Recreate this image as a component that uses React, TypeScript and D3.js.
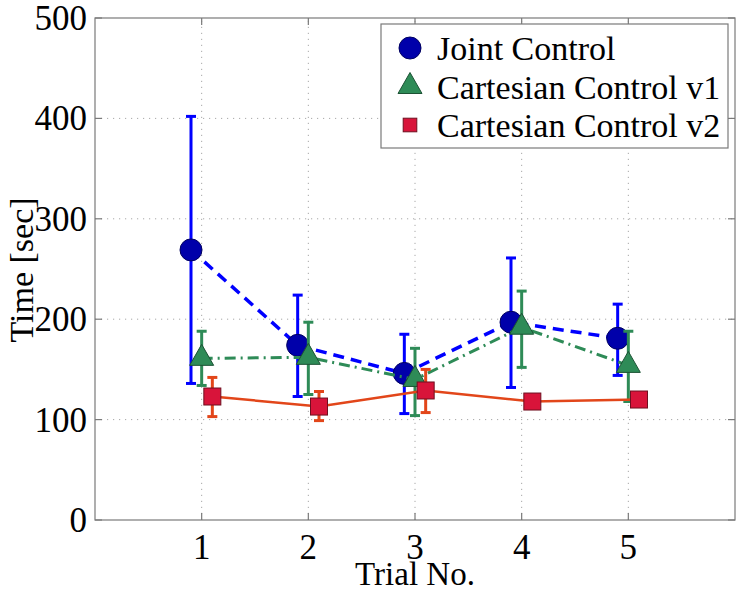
import React from "react";
import * as d3 from "d3";

const trials = [1, 2, 3, 4, 5];
const xTicks = [1, 2, 3, 4, 5];
const yTicks = [0, 100, 200, 300, 400, 500];

const jointMean = [269, 174, 146, 197, 181];
const jointUpper = [402, 224, 185, 261, 215];
const jointLower = [136, 123, 106, 132, 144];

const cart1Mean = [161, 162, 140, 192, 154];
const cart1Upper = [188, 197, 171, 228, 188];
const cart1Lower = [134, 125, 104, 152, 118];

const cart2Mean = [123, 113, 129, 118, 120];
const cart2Upper = [142, 128, 150, 123, 125];
const cart2Lower = [103, 99, 107, 113, 115];

const seriesNames = ["Joint Control", "Cartesian Control v1", "Cartesian Control v2"];

const W = 745;
const H = 591;
const FONT = "'Liberation Serif', 'Times New Roman', serif";

export default function App() {
  const x = d3.scaleLinear().domain([0, 6]).range([95, 735]);
  const y = d3.scaleLinear().domain([0, 500]).range([520, 18]);

  const series = [
    {
      name: seriesNames[0], mean: jointMean, up: jointUpper, lo: jointLower, off: -0.1,
      line: "#0000ff", dash: "11,7", lw: 3.5, fill: "#0000aa", edge: "#000060", marker: "circle",
    },
    {
      name: seriesNames[1], mean: cart1Mean, up: cart1Upper, lo: cart1Lower, off: 0,
      line: "#2e8b57", dash: "11,5,2,5", lw: 3, fill: "#2e8b57", edge: "#1c5234", marker: "triangle",
    },
    {
      name: seriesNames[2], mean: cart2Mean, up: cart2Upper, lo: cart2Lower, off: 0.1,
      line: "#e2461a", dash: "", lw: 2.5, fill: "#d8143a", edge: "#6e1020", marker: "square",
    },
  ];

  const lineGen = d3.line<[number, number]>().x((d) => d[0]).y((d) => d[1]);

  const drawMarker = (type: string, cx: number, cy: number, fill: string, edge: string, scale = 1, key?: any) => {
    if (type === "circle") {
      return <circle key={key} cx={cx} cy={cy} r={11 * scale} fill={fill} stroke={edge} strokeWidth={1} />;
    }
    if (type === "triangle") {
      const h = 21 * scale;
      const w = 24 * scale;
      const pts = [
        [cx, cy - (2 / 3) * h],
        [cx - w / 2, cy + h / 3],
        [cx + w / 2, cy + h / 3],
      ];
      return <polygon key={key} points={pts.map((p) => p.join(",")).join(" ")} fill={fill} stroke={edge} strokeWidth={1} />;
    }
    const s = 17 * scale;
    return <rect key={key} x={cx - s / 2} y={cy - s / 2} width={s} height={s} fill={fill} stroke={edge} strokeWidth={1} />;
  };

  const x0 = x(0), x1 = x(6), y0 = y(0), y1 = y(500);
  const tickLen = 7;

  return (
    <svg width={W} height={H} style={{ position: "absolute", left: 0, top: 0, background: "#fff" }} fontFamily={FONT}>
      <rect x={0} y={0} width={W} height={H} fill="#fff" />
      {/* grid */}
      {xTicks.map((t) => (
        <line key={"gx" + t} x1={x(t)} x2={x(t)} y1={y0} y2={y1} stroke="#a8a8a8" strokeWidth={1} strokeDasharray="1.2,4.8" />
      ))}
      {yTicks.filter((t) => t > 0 && t < 500).map((t) => (
        <line key={"gy" + t} x1={x0} x2={x1} y1={y(t)} y2={y(t)} stroke="#a8a8a8" strokeWidth={1} strokeDasharray="1.2,4.8" />
      ))}
      {/* frame */}
      <rect x={x0} y={y1} width={x1 - x0} height={y0 - y1} fill="none" stroke="#7a7a7a" strokeWidth={1.2} />
      {/* ticks */}
      {xTicks.map((t) => (
        <g key={"tx" + t}>
          <line x1={x(t)} x2={x(t)} y1={y0} y2={y0 - tickLen} stroke="#7a7a7a" strokeWidth={1.2} />
          <line x1={x(t)} x2={x(t)} y1={y1} y2={y1 + tickLen} stroke="#7a7a7a" strokeWidth={1.2} />
        </g>
      ))}
      {yTicks.map((t) => (
        <g key={"ty" + t}>
          <line x1={x0} x2={x0 + tickLen} y1={y(t)} y2={y(t)} stroke="#7a7a7a" strokeWidth={1.2} />
          <line x1={x1} x2={x1 - tickLen} y1={y(t)} y2={y(t)} stroke="#7a7a7a" strokeWidth={1.2} />
        </g>
      ))}
      {/* tick labels */}
      {xTicks.map((t) => (
        <text key={"lx" + t} x={x(t)} y={559} fontSize={35} textAnchor="middle" fill="#000">{t}</text>
      ))}
      {yTicks.map((t) => (
        <text key={"ly" + t} x={87} y={y(t) + 12} fontSize={35} textAnchor="end" fill="#000">{t}</text>
      ))}
      <text x={415} y={585} fontSize={33} textAnchor="middle" fill="#000">Trial No.</text>
      <text transform="translate(33,270) rotate(-90)" fontSize={34} textAnchor="middle" fill="#000">Time [sec]</text>

      {/* series */}
      {series.map((s, si) => {
        const pts: [number, number][] = trials.map((t, i) => [x(t + s.off), y(s.mean[i])]);
        return (
          <g key={"s" + si}>
            <path d={lineGen(pts) || ""} fill="none" stroke={s.line} strokeWidth={s.lw} strokeDasharray={s.dash || undefined} />
            {trials.map((t, i) => {
              const cx = x(t + s.off);
              const yu = y(s.up[i]);
              const yl = y(s.lo[i]);
              return (
                <g key={"e" + i}>
                  <line x1={cx} x2={cx} y1={yu} y2={yl} stroke={s.line} strokeWidth={3} />
                  <line x1={cx - 5} x2={cx + 5} y1={yu} y2={yu} stroke={s.line} strokeWidth={3} />
                  <line x1={cx - 5} x2={cx + 5} y1={yl} y2={yl} stroke={s.line} strokeWidth={3} />
                </g>
              );
            })}
            {trials.map((t, i) => drawMarker(s.marker, x(t + s.off), y(s.mean[i]), s.fill, s.edge, 1, "m" + i))}
          </g>
        );
      })}

      {/* legend */}
      <rect x={381} y={24} width={347} height={124} fill="#fff" stroke="#7a7a7a" strokeWidth={1.2} />
      {series.map((s, i) => {
        const cy = 48 + i * 38.5;
        return (
          <g key={"lg" + i}>
            {drawMarker(s.marker, 410, cy, s.fill, s.edge, s.marker === "square" ? 0.8 : 1)}
            <text x={437} y={cy + 12} fontSize={34} fill="#000">{s.name}</text>
          </g>
        );
      })}
    </svg>
  );
}
